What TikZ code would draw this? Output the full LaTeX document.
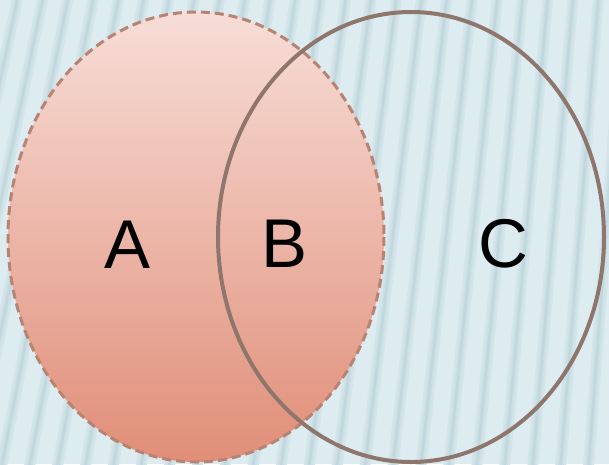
\documentclass[tikz,border=0pt]{standalone}
\usepackage{fontspec}
\setmainfont{Liberation Sans}
\definecolor{bgblue}{HTML}{DDECF0}
\definecolor{stripe}{HTML}{C2D8DE}
\definecolor{stripemid}{HTML}{CBDFE4}
\definecolor{stripelt}{HTML}{D4E5EA}
\definecolor{atop}{HTML}{F7DDD7}
\definecolor{abot}{HTML}{E08E78}
\definecolor{adash}{HTML}{B98373}
\definecolor{cline}{HTML}{8E766D}
\begin{document}
\begin{tikzpicture}[x=1pt,y=-1pt,
  stripeband/.style={stripelt,line width=11pt},
  stripemidb/.style={stripemid,line width=6pt},
  stripecore/.style={stripe,line width=2.5pt},
  lbl/.style={font=\fontsize{69}{69}\selectfont,text=black,inner sep=0pt}]
\fill[bgblue] (0,0) rectangle (609,464);
\useasboundingbox (0,0) rectangle (609,464);
\begin{scope}
\clip (0,0) rectangle (609,464);
\foreach \i in {-5,...,24}{
  \pgfmathsetmacro{\xb}{\i*28}
  \pgfmathsetmacro{\xt}{\xb+95-0.1*\xb}
  \draw[stripeband] (\xt,-10) -- (\xb,474);
  \draw[stripemidb] (\xt,-10) -- (\xb,474);
  \draw[stripecore] (\xt,-10) -- (\xb,474);
}
\end{scope}
% Ellipse A
\coordinate (ca) at (196,237);
\shade[top color=atop,bottom color=abot] (ca) ellipse [x radius=188,y radius=225];
\draw[adash,line width=3pt,dash pattern=on 9pt off 5pt] (ca) ellipse [x radius=188,y radius=225];
% Ellipse C
\coordinate (cc) at (411,237);
\draw[cline,line width=4pt] (cc) ellipse [x radius=193,y radius=225];
% Labels
\node[lbl] (A) at (128,245) {A};
\node[lbl] (B) at (285,244) {B};
\node[lbl] (C) at (503,244) {C};
\end{tikzpicture}
\end{document}
